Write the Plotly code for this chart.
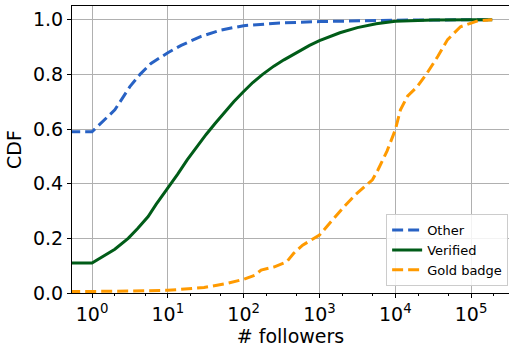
import plotly.graph_objects as go

# ---- data ----
other_x = [0.5, 1, 2, 3.16, 4.3, 6, 10, 15, 27, 50, 100, 300, 1000, 3000, 10000, 30000, 100000, 190000]
other_y = [0.59, 0.59, 0.67, 0.755, 0.80, 0.84, 0.879, 0.906, 0.938, 0.962, 0.978, 0.988, 0.993, 0.996, 0.998, 0.999, 1.0, 1.0]

verified_x = [0.5, 1, 2, 3, 4, 5.5, 7, 10, 13.5, 18, 24, 32, 42, 56, 74, 100, 132, 178, 250, 340, 420, 560, 740, 1000, 1350, 1860, 3160, 5600, 10000, 31600, 100000, 190000]
verified_y = [0.11, 0.11, 0.16, 0.20, 0.236, 0.28, 0.324, 0.383, 0.435, 0.487, 0.535, 0.58, 0.62, 0.66, 0.70, 0.737, 0.77, 0.80, 0.83, 0.853, 0.868, 0.888, 0.906, 0.923, 0.938, 0.952, 0.971, 0.985, 0.994, 0.999, 1.0, 1.0]

gold_x = [0.5, 1, 3, 10, 30, 60, 100, 140, 170, 250, 370, 460, 600, 1000, 1500, 2100, 3000, 3800, 5000, 5900, 6800, 7800, 10000, 11700, 14500, 19500, 26300, 36300, 49000, 72400, 123000, 190000]
gold_y = [0.005, 0.005, 0.007, 0.01, 0.02, 0.035, 0.05, 0.065, 0.084, 0.095, 0.114, 0.146, 0.175, 0.212, 0.27, 0.315, 0.36, 0.385, 0.414, 0.45, 0.487, 0.52, 0.597, 0.67, 0.72, 0.755, 0.805, 0.865, 0.927, 0.974, 0.996, 1.0]

x_tickvals = [1, 10, 100, 1000, 10000, 100000]
x_ticktext = ["10<sup>0</sup>", "10<sup>1</sup>", "10<sup>2</sup>", "10<sup>3</sup>", "10<sup>4</sup>", "10<sup>5</sup>"]
y_tickvals = [0.0, 0.2, 0.4, 0.6, 0.8, 1.0]

FONT = "DejaVu Sans"

fig = go.Figure()
fig.add_trace(go.Scatter(x=other_x, y=other_y, mode="lines", name="Other",
                         line=dict(color="#2862c4", width=3, dash="11px,5px")))
fig.add_trace(go.Scatter(x=verified_x, y=verified_y, mode="lines", name="Verified",
                         line=dict(color="#005c18", width=3)))
fig.add_trace(go.Scatter(x=gold_x, y=gold_y, mode="lines", name="Gold badge",
                         line=dict(color="#ff9a00", width=3, dash="11px,5px")))

fig.update_layout(
    width=509, height=347,
    margin=dict(l=72, r=0, t=6, b=54, autoexpand=False),
    paper_bgcolor="white", plot_bgcolor="white",
    font=dict(family=FONT, size=19, color="black"),
    showlegend=True,
    legend=dict(x=0.998, xanchor="right", y=0.024, yanchor="bottom",
                bgcolor="rgba(255,255,255,0.85)", bordercolor="#cccccc", borderwidth=1,
                font=dict(family=FONT, size=13, color="black"),
                tracegroupgap=0, itemwidth=30),
)
fig.update_xaxes(
    type="log", range=[-0.264, 5.5],
    tickvals=x_tickvals, ticktext=x_ticktext,
    tickfont=dict(family=FONT, size=19, color="black"),
    showgrid=True, gridcolor="#b0b0b0", gridwidth=1,
    showline=True, linecolor="black", linewidth=1, mirror=True,
    ticks="outside", ticklen=4, tickcolor="black",
    minor=dict(ticks="outside", ticklen=2, tickcolor="black", showgrid=False),
    title=dict(text="# followers", font=dict(family=FONT, size=19, color="black"), standoff=2),
    zeroline=False, automargin=False,
)
fig.update_yaxes(
    range=[0, 1.05],
    tickvals=y_tickvals, tickformat=".1f",
    tickfont=dict(family=FONT, size=19, color="black"),
    showgrid=True, gridcolor="#b0b0b0", gridwidth=1,
    showline=True, linecolor="black", linewidth=1,
    ticks="outside", ticklen=4, tickcolor="black",
    title=dict(text="CDF", font=dict(family=FONT, size=19, color="black"), standoff=6),
    zeroline=False, automargin=False,
)

fig.write_html("out.html",
               config={"displayModeBar": False},
               post_script="document.body.style.margin='0';document.body.style.overflow='hidden';")
